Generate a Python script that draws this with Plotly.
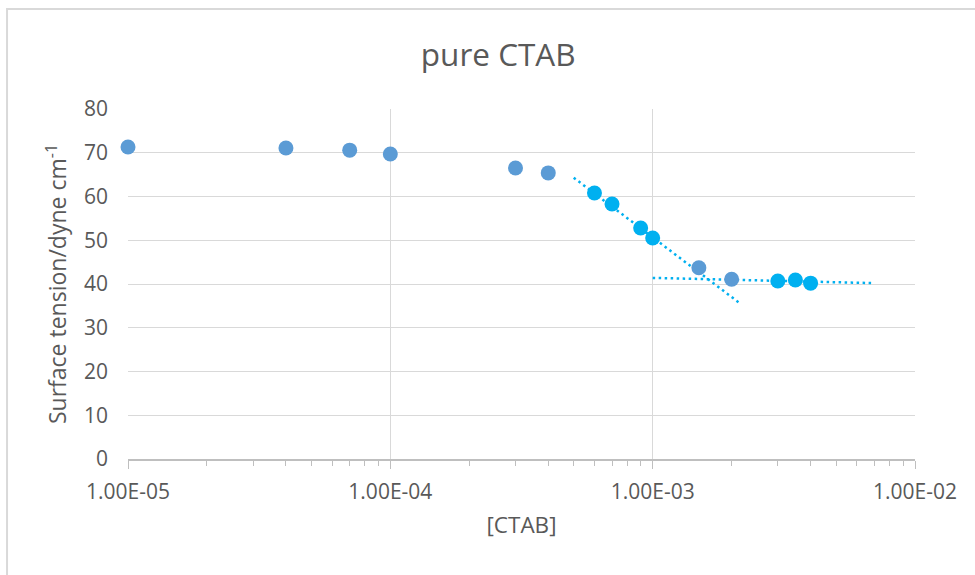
import plotly.graph_objects as go

# Surface tension of pure CTAB solutions vs concentration (mol/L)
conc_all = [1.0e-5, 4.0e-5, 7.0e-5, 1.0e-4, 3.0e-4, 4.0e-4, 1.5e-3, 2.0e-3]
gamma_all = [71.3, 71.1, 70.6, 69.7, 66.5, 65.4, 43.7, 41.1]

# Points in the steep (pre-CMC) region
conc_pre = [6.0e-4, 7.0e-4, 9.0e-4, 1.0e-3]
gamma_pre = [60.8, 58.3, 52.8, 50.5]

# Points in the plateau (post-CMC) region
conc_post = [3.0e-3, 3.5e-3, 4.0e-3]
gamma_post = [40.7, 40.9, 40.2]

# Logarithmic trend lines (straight on a log axis): end points
trend_pre_x = [5.0e-4, 2.15e-3]
trend_pre_y = [64.3, 35.6]
trend_post_x = [1.0e-3, 7.0e-3]
trend_post_y = [41.4, 40.2]

x_tickvals = [1e-5, 1e-4, 1e-3, 1e-2]
x_ticktext = ["1.00E-05", "1.00E-04", "1.00E-03", "1.00E-02"]
y_tickvals = [0, 10, 20, 30, 40, 50, 60, 70, 80]

C_LIGHT = "#5B9BD5"
C_BRIGHT = "#00B0F0"
TXT = "#595959"
GRID = "#D9D9D9"
FONT = "Open Sans"

fig = go.Figure()

dot = "2.5px,3.5px"
fig.add_trace(go.Scatter(x=trend_pre_x, y=trend_pre_y, mode="lines",
                         line=dict(color=C_BRIGHT, width=2.5, dash=dot),
                         hoverinfo="skip", showlegend=False))
fig.add_trace(go.Scatter(x=trend_post_x, y=trend_post_y, mode="lines",
                         line=dict(color=C_BRIGHT, width=2.5, dash=dot),
                         hoverinfo="skip", showlegend=False))

fig.add_trace(go.Scatter(x=conc_all, y=gamma_all, mode="markers", cliponaxis=False,
                         marker=dict(color=C_LIGHT, size=15), showlegend=False))
fig.add_trace(go.Scatter(x=conc_pre, y=gamma_pre, mode="markers", cliponaxis=False,
                         marker=dict(color=C_BRIGHT, size=15), showlegend=False))
fig.add_trace(go.Scatter(x=conc_post, y=gamma_post, mode="markers", cliponaxis=False,
                         marker=dict(color=C_BRIGHT, size=15), showlegend=False))

fig.update_layout(
    width=975, height=575,
    margin=dict(l=128, r=60, t=109, b=116),
    paper_bgcolor="white", plot_bgcolor="white",
    font=dict(family=FONT, color=TXT),
    title=dict(text="pure CTAB", x=0.511, xanchor="center", y=0.905, yanchor="middle",
               font=dict(family=FONT, size=31.5, color=TXT)),
    shapes=[dict(type="rect", xref="paper", yref="paper",
                 x0=-0.1537, x1=1.2, y0=-0.5, y1=1.2857,
                 line=dict(color=GRID, width=2), fillcolor="rgba(0,0,0,0)", layer="below")],
)

fig.update_xaxes(
    type="log", range=[-5, -2],
    tickvals=x_tickvals, ticktext=x_ticktext,
    tickfont=dict(size=21, color=TXT),
    showgrid=True, gridcolor=GRID, gridwidth=1.3,
    showline=True, linecolor="#BFBFBF", linewidth=1.5,
    ticks="outside", ticklen=8, tickcolor="#BFBFBF", tickwidth=1.3,
    ticklabelstandoff=5,
    minor=dict(ticks="outside", ticklen=5, tickcolor="#BFBFBF", tickwidth=1.3,
               dtick="D1", showgrid=False),
    title=dict(text="[CTAB]", font=dict(size=22.5, color=TXT), standoff=13),
    zeroline=False,
)

fig.update_yaxes(
    range=[0, 80], tickvals=y_tickvals,
    tickfont=dict(size=21, color=TXT),
    showgrid=True, gridcolor=GRID, gridwidth=1.3,
    showline=False, zeroline=False, ticks="",
    ticklabelstandoff=19,
    title=dict(text="Surface tension/dyne cm<sup>-1</sup>", font=dict(size=23, color=TXT),
               standoff=10),
)

fig.write_html("out.html")
